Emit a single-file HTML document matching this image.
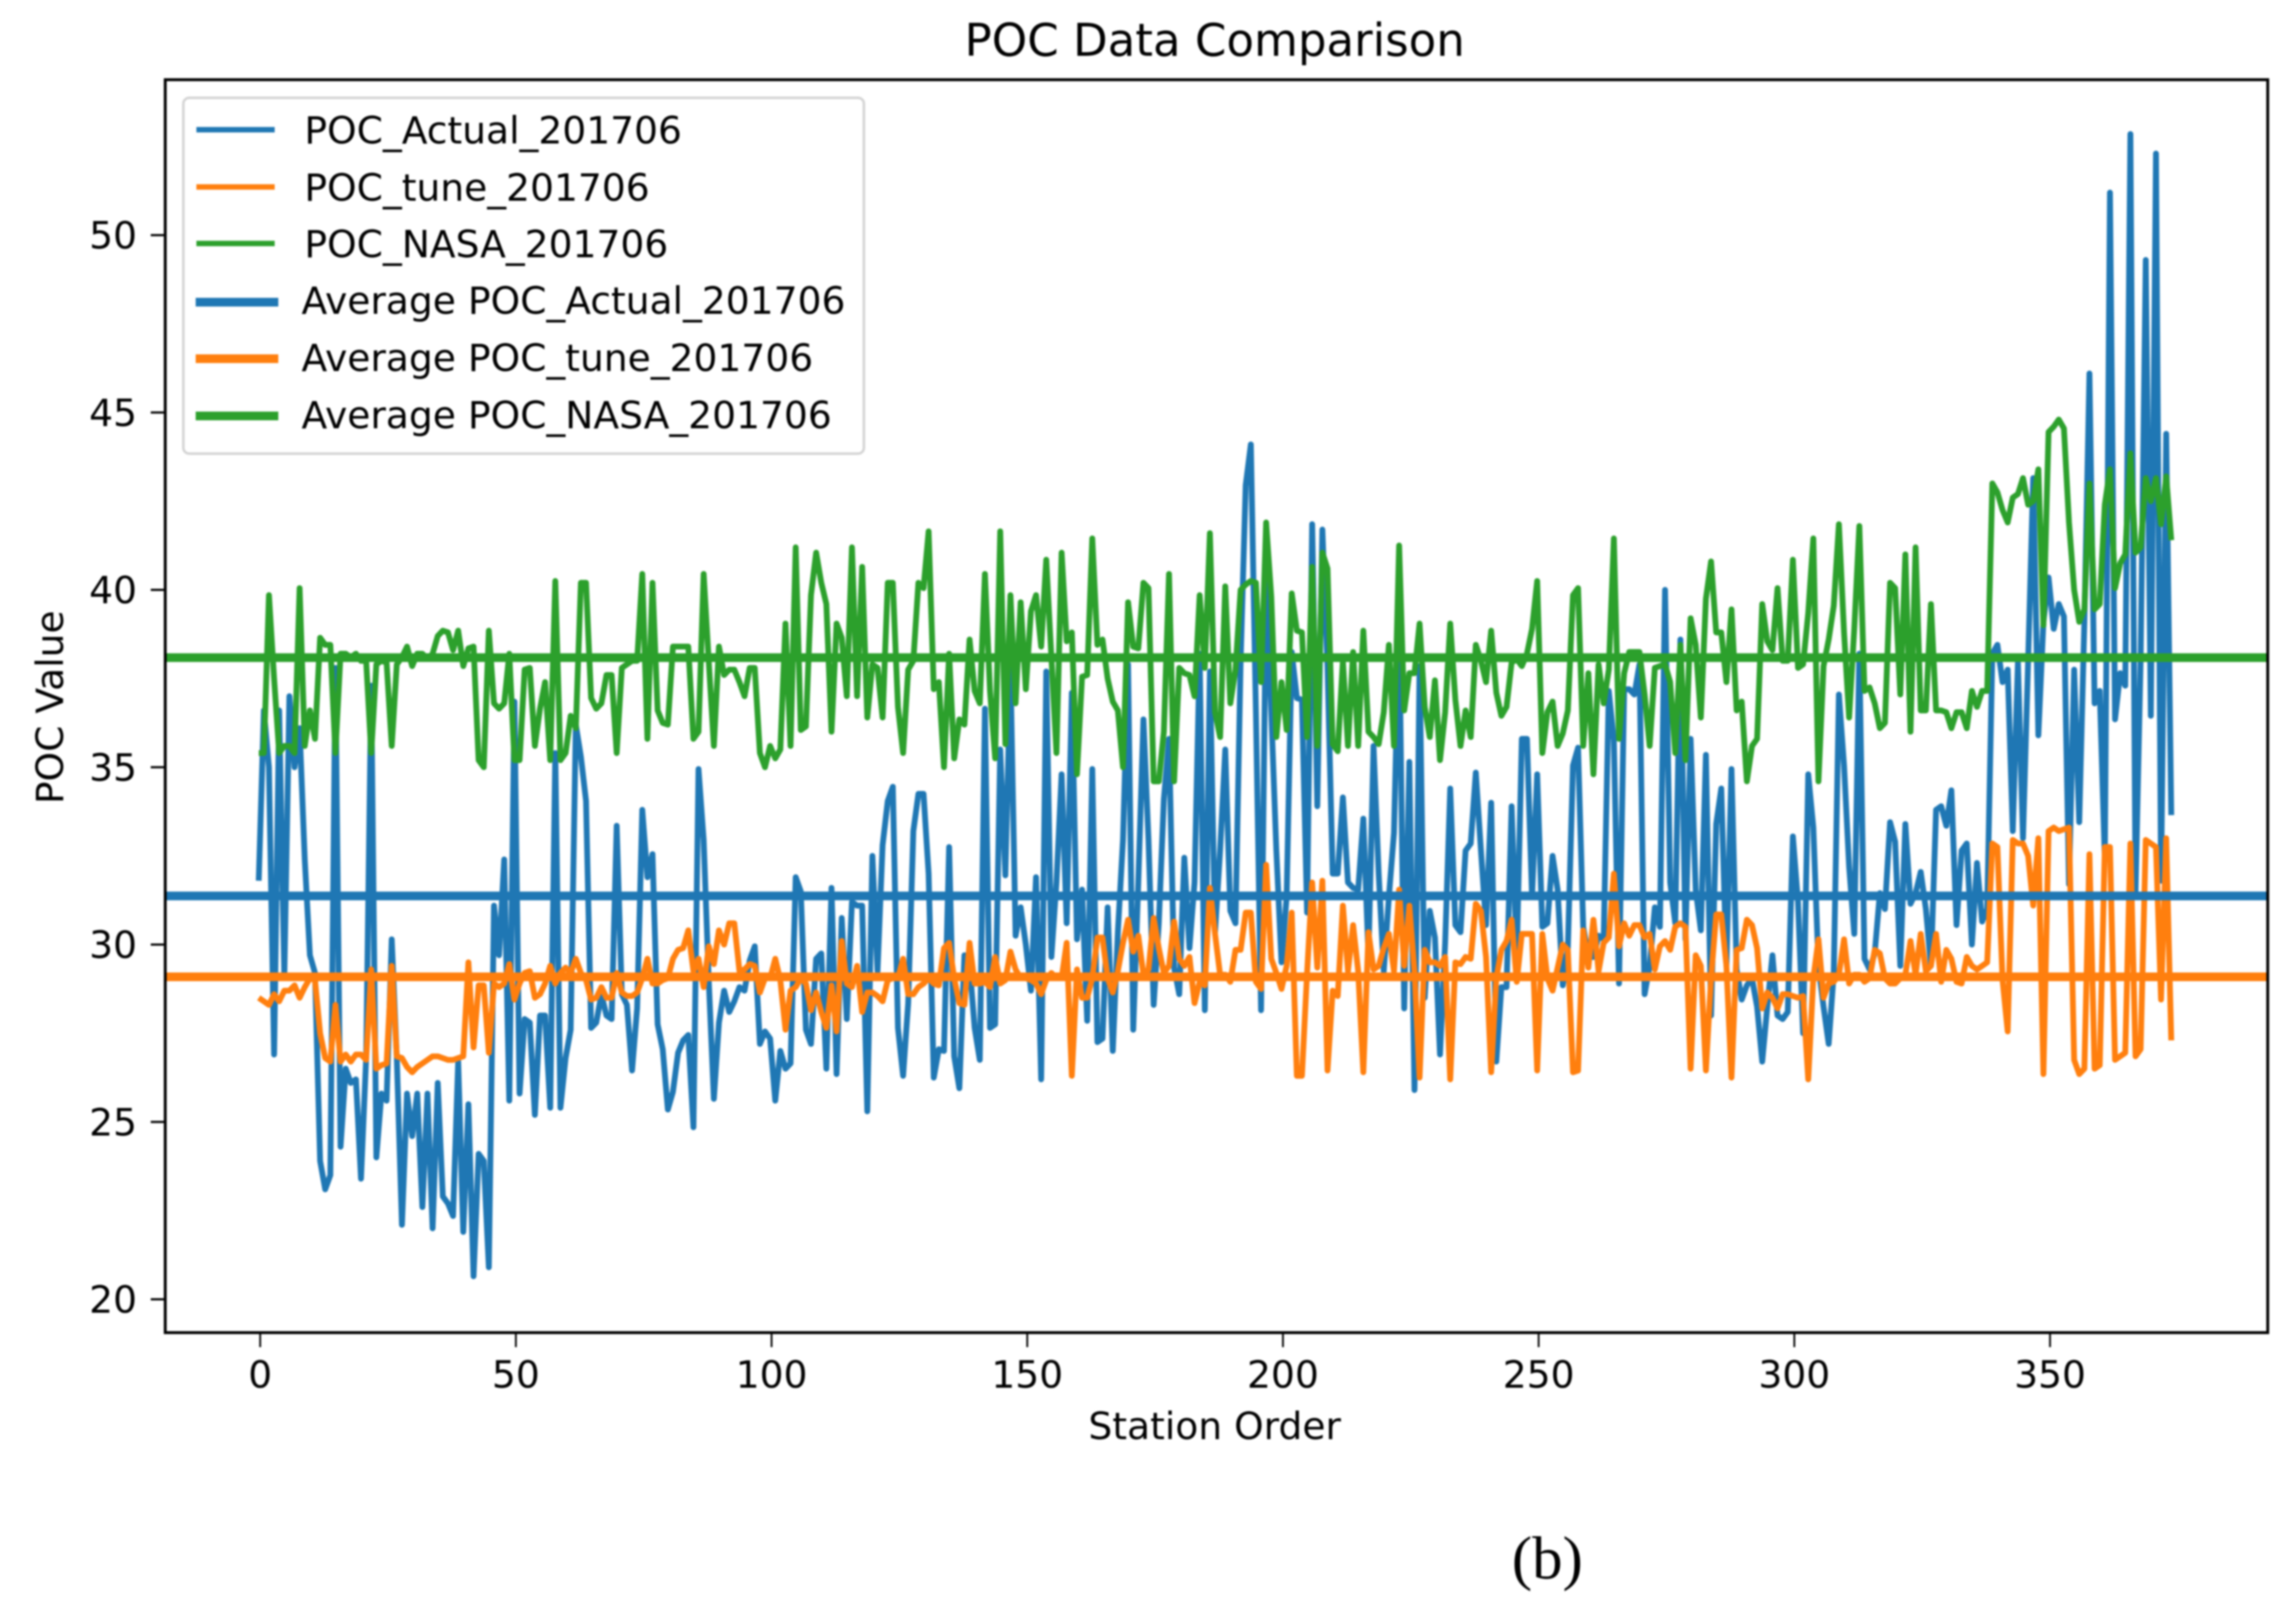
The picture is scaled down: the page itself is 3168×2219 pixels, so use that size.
<!DOCTYPE html>
<html lang="en">
<head>
<meta charset="utf-8">
<title>POC Data Comparison</title>
<style>
html,body{margin:0;padding:0;background:#fff;}
body{width:3168px;height:2219px;overflow:hidden;}
svg{display:block;filter:blur(1.2px);}
text{font-family:"DejaVu Sans","Liberation Sans",sans-serif;fill:#000;}
</style>
</head>
<body>
<svg id="chart" xmlns="http://www.w3.org/2000/svg" width="3168" height="2219" viewBox="0 0 3168 2219">
  <rect x="0" y="0" width="3168" height="2219" fill="#fff"/>
  <g id="series-layer"></g>
  <rect x="228" y="110" width="2901" height="1729" fill="none" stroke="#000" stroke-width="4"/>
  <g id="tick-layer"></g>
  <text x="1676" y="77" font-size="62.2" text-anchor="middle">POC Data Comparison</text>
  <text x="1676" y="1986" font-size="51.9" text-anchor="middle">Station Order</text>
  <text transform="translate(87,976) rotate(-90)" font-size="51.9" text-anchor="middle">POC Value</text>
  <g>
    <rect x="253" y="135" width="939" height="491" rx="8" ry="8" fill="#fff" fill-opacity="0.8" stroke="#d4d4d4" stroke-width="3.5"/>
    <line x1="271" x2="379" y1="179" y2="179" stroke="#1f77b4" stroke-width="7.5"/>
    <line x1="271" x2="379" y1="258" y2="258" stroke="#ff7f0e" stroke-width="7.5"/>
    <line x1="271" x2="379" y1="336" y2="336" stroke="#2ca02c" stroke-width="7.5"/>
    <line x1="270" x2="384" y1="417" y2="417" stroke="#1f77b4" stroke-width="12"/>
    <line x1="270" x2="384" y1="495" y2="495" stroke="#ff7f0e" stroke-width="12"/>
    <line x1="270" x2="384" y1="574" y2="574" stroke="#2ca02c" stroke-width="12"/>
    <text x="420" y="198" font-size="51.9">POC_Actual_201706</text>
    <text x="420" y="277" font-size="51.9">POC_tune_201706</text>
    <text x="420" y="355" font-size="51.9">POC_NASA_201706</text>
    <text x="416" y="433" font-size="51.9">Average POC_Actual_201706</text>
    <text x="416" y="512" font-size="51.9">Average POC_tune_201706</text>
    <text x="416" y="591" font-size="51.9">Average POC_NASA_201706</text>
  </g>
  <text x="2135" y="2178" font-size="84" text-anchor="middle" style="font-family:'Liberation Serif',serif">(b)</text>
</svg>
<script>
const pocActual = [
31.8,36.6,35.0,26.9,36.6,29.1,37.0,35.0,36.1,32.4,29.7,29.2,23.9,23.1,23.5,37.8,24.3,26.5,26.1,26.2,23.4,26.8,37.3,24.0,25.8,25.6,30.15,26.8,22.1,25.8,24.6,25.8,22.6,25.8,22.0,26.1,22.9,22.7,22.35,26.7,21.9,25.5,20.65,24.1,23.9,20.9,31.1,29.7,32.4,25.6,36.85,25.8,27.9,27.8,25.2,28.0,28.0,25.4,35.4,25.4,26.8,27.6,
36.2,35.3,34.05,27.65,27.8,28.6,28.0,27.9,33.35,28.6,28.3,26.45,28.2,33.8,31.9,32.55,27.75,27.05,25.35,25.85,26.95,27.3,27.45,24.85,34.95,32.95,29.0,25.65,27.8,28.7,28.1,28.4,28.8,28.7,29.55,29.95,27.2,27.55,27.35,25.6,27.0,26.5,26.65,31.9,31.5,27.6,27.2,29.6,29.75,26.5,31.6,26.35,30.75,27.9,31.2,31.1,31.1,25.3,32.5,29.25,32.8,34.05,34.45,
27.65,26.3,28.35,33.2,34.25,34.25,32.0,26.25,27.05,27.0,32.75,26.85,25.95,29.7,29.45,27.65,26.75,36.65,27.65,27.75,35.5,31.95,37.8,30.25,31.05,30.0,28.7,31.9,26.2,37.7,29.65,31.75,34.8,30.6,37.1,30.15,31.55,27.85,34.95,27.25,27.35,31.05,27.0,30.35,32.95,37.9,27.6,31.75,36.35,32.95,28.3,30.6,34.1,35.8,29.35,28.6,32.45,29.9,31.75,38.2,28.15,37.7,
30.35,32.65,35.5,30.95,30.6,38.0,42.95,44.1,36.55,28.15,40.2,36.55,32.65,29.5,31.35,38.25,36.95,36.9,30.9,41.85,33.9,41.7,37.85,32.0,32.0,34.15,31.75,31.6,31.55,33.55,29.65,35.6,32.0,29.25,31.35,33.15,39.15,28.2,35.15,25.9,37.85,28.5,30.95,30.2,26.9,30.05,34.4,30.55,30.35,32.65,32.85,34.85,32.65,30.55,34.0,26.7,28.8,28.8,33.9,29.65,35.8,35.8,31.35,
34.8,30.5,30.6,32.5,31.55,28.85,29.9,35.05,35.55,30.5,29.65,29.65,30.25,30.15,37.15,35.75,28.9,37.2,37.2,37.05,37.9,28.6,29.4,31.05,30.5,40.0,31.75,30.6,38.6,30.15,35.8,31.55,30.4,35.35,28.0,33.4,34.4,29.4,34.95,29.3,28.45,28.85,29.05,28.25,26.7,28.25,29.7,28.0,27.9,28.1,33.05,31.2,27.5,34.8,33.3,29.4,28.25,27.2,29.2,37.05,35.05,32.2,
30.3,38.2,29.6,29.3,29.75,31.45,31.0,33.45,32.9,29.4,33.4,31.15,31.45,32.05,31.0,29.4,33.8,33.9,33.35,34.35,30.55,32.65,32.85,30.0,32.3,30.65,31.0,38.2,38.45,37.4,37.75,33.2,37.95,33.0,38.0,43.15,35.9,39.1,40.35,38.9,39.6,39.25,31.7,37.75,33.45,39.1,46.1,36.8,37.15,32.4,51.2,36.35,37.65,37.3,52.85,31.5,38.0,49.3,36.45,52.3,31.8,44.4,33.65
];
const pocTune = [
28.5,28.4,28.3,28.6,28.4,28.7,28.7,28.85,28.5,28.8,29.05,29.0,27.5,26.8,26.7,28.3,26.7,26.9,26.7,26.9,26.9,26.75,29.3,26.5,26.6,26.65,29.4,26.85,26.8,26.55,26.4,26.55,26.65,26.75,26.85,26.85,26.8,26.75,26.75,26.8,26.85,29.5,27.1,28.85,28.85,26.95,28.9,28.8,28.9,29.45,28.45,28.9,29.2,29.25,28.5,28.6,28.9,29.4,28.9,29.2,29.35,29.2,
29.6,29.2,29.0,28.45,28.5,28.8,28.5,28.5,29.2,28.65,28.55,28.55,28.65,29.05,29.6,28.9,28.9,29.0,29.05,29.6,29.85,29.9,30.4,29.25,29.6,28.8,29.95,29.45,30.4,30.0,30.6,30.6,29.25,29.3,29.45,29.4,28.65,29.05,29.05,29.6,29.0,27.6,28.7,28.8,29.05,28.9,28.15,28.65,28.1,27.65,28.85,27.55,30.1,28.9,28.8,29.4,28.1,28.65,28.65,28.55,28.4,29.0,29.05,
29.05,29.6,28.6,28.6,28.8,28.9,29.05,28.9,28.85,29.9,30.05,29.05,28.35,28.3,30.05,28.9,28.9,28.95,28.8,29.65,28.9,29.0,29.8,29.3,29.05,29.05,29.0,28.9,28.6,29.0,29.2,29.05,29.05,30.05,26.3,29.3,28.5,28.5,29.05,30.2,30.2,29.05,28.65,29.25,30.05,30.7,29.8,30.25,29.15,29.3,30.75,29.9,29.2,29.4,30.65,29.6,29.4,29.65,28.35,28.95,28.85,31.6,
30.3,29.15,29.15,28.95,29.85,29.85,30.9,30.9,28.95,28.75,32.25,29.6,29.2,28.75,29.4,30.9,26.3,26.3,29.2,31.75,29.35,31.8,26.45,28.7,28.55,31.1,29.25,30.55,29.25,26.4,30.35,29.3,29.4,29.9,30.3,29.25,31.55,29.4,31.1,29.25,26.25,29.85,29.5,29.5,29.4,29.65,26.2,29.5,29.45,29.65,29.6,31.15,30.95,29.65,26.4,29.05,29.85,30.1,30.7,28.95,30.3,30.3,30.3,
26.45,30.3,29.05,28.7,29.35,30.0,29.85,26.4,26.45,30.4,29.35,30.7,29.25,30.05,30.2,32.0,29.95,30.6,30.25,30.55,30.55,30.2,30.3,29.3,29.95,30.1,29.85,30.5,30.6,30.5,26.5,29.7,29.4,26.45,29.05,30.85,30.85,29.4,26.25,29.85,29.9,30.7,30.55,29.9,28.2,28.65,28.5,28.2,28.6,28.6,28.55,28.5,28.55,26.2,29.05,30.15,28.5,28.9,28.95,29.15,30.15,28.9,
29.15,29.15,28.95,29.05,29.85,29.75,29.05,28.9,28.9,29.05,29.15,30.1,29.15,30.3,29.25,29.4,30.3,28.95,29.85,29.6,28.95,28.9,29.65,29.4,29.3,29.4,29.5,32.85,32.75,29.0,27.55,32.95,32.85,32.85,32.5,31.1,33.0,26.35,33.2,33.3,33.2,33.25,33.3,26.75,26.35,26.5,32.55,26.5,26.6,32.75,32.75,26.75,26.85,26.95,32.85,26.85,27.05,32.95,32.85,32.75,28.45,33.0,27.3
];
const pocNasa = [
35.4,35.4,39.85,37.5,35.4,35.6,35.6,35.4,40.05,35.6,36.6,35.8,38.65,38.45,38.45,35.4,38.2,38.2,38.1,38.2,38.0,38.0,35.4,37.9,38.0,37.95,35.6,37.9,38.1,38.4,37.85,38.2,38.2,38.05,38.2,38.7,38.85,38.8,38.3,38.85,37.85,38.35,38.4,35.2,35.0,38.85,36.8,36.65,36.8,38.2,35.2,35.2,37.75,37.8,35.6,36.65,37.4,35.2,40.25,35.2,35.4,36.45,
36.1,40.2,40.2,36.95,36.65,36.8,37.6,37.6,35.4,37.8,37.9,38.0,38.0,40.45,35.8,40.2,36.6,36.25,36.2,38.4,38.4,38.4,38.4,35.8,36.0,40.45,38.0,35.6,38.4,37.6,37.75,37.75,37.4,37.0,37.8,37.8,35.4,35.0,35.6,35.25,35.5,39.05,35.6,41.2,36.05,36.15,39.85,41.05,40.2,39.6,36.0,39.05,38.65,37.0,41.2,37.0,40.65,36.4,37.9,37.8,36.4,40.2,40.2,
36.7,35.4,37.75,38.0,40.2,40.05,41.65,37.2,37.4,35.0,38.2,35.25,36.35,36.2,38.6,37.15,36.8,40.45,37.15,35.25,41.65,35.65,39.85,36.8,39.65,37.2,39.4,39.85,38.4,40.85,38.1,35.4,41.05,38.55,38.8,34.8,37.55,37.6,41.45,38.45,38.6,37.5,36.85,36.6,35.0,39.65,38.4,38.35,40.2,40.05,34.6,34.6,36.0,40.45,34.6,37.8,37.65,37.6,37.0,39.85,37.8,41.6,
36.55,35.85,40.1,36.8,37.75,40.0,40.15,40.25,40.2,37.4,41.9,39.8,35.85,37.4,36.05,39.9,38.85,38.8,35.85,40.65,35.6,41.05,40.6,35.65,35.45,38.0,35.6,38.25,35.6,38.85,36.0,35.85,35.65,36.55,38.45,35.6,41.25,36.6,37.65,37.65,39.05,36.7,35.85,37.45,35.2,36.55,39.05,36.9,35.6,36.6,35.85,38.45,38.0,37.4,38.85,37.1,36.45,36.7,37.95,38.05,37.85,38.2,38.9,
40.25,35.4,36.55,36.85,35.6,35.95,36.6,39.85,40.05,35.6,37.65,34.8,37.9,36.8,37.75,41.45,35.8,37.65,38.25,38.25,38.25,37.05,35.6,37.8,37.85,37.9,37.4,35.4,38.45,35.2,39.2,38.45,36.4,39.75,40.8,38.8,38.8,37.4,39.45,36.6,36.85,34.6,35.6,35.8,39.6,38.55,38.3,40.05,38.0,38.0,40.85,37.8,37.9,39.35,41.45,34.6,37.85,38.6,39.55,41.85,38.8,36.4,
38.9,41.8,37.15,37.25,36.8,36.1,36.25,40.2,40.05,37.05,41.0,36.0,41.2,36.6,36.6,39.6,36.6,36.6,36.55,36.1,36.55,36.55,36.1,37.15,36.7,37.15,37.15,43.0,42.75,42.25,41.9,42.6,42.7,43.15,42.4,42.5,43.4,39.0,44.45,44.6,44.8,44.55,41.9,40.0,39.1,39.45,43.0,39.45,39.6,42.4,43.4,40.05,40.75,41.0,43.85,41.05,41.2,43.15,42.5,43.15,41.85,43.2,41.4
];
const averageActual = 31.37;
const averageTune = 29.09;
const averageNasa = 38.09;
const xTickValues = [0, 50, 100, 150, 200, 250, 300, 350];
const yTickValues = [20, 25, 30, 35, 40, 45, 50];

const SVG_NS = 'http://www.w3.org/2000/svg';
function xScale(v) { return 357 + 7.056 * v; }
function xTickScale(v) { return xScale(v) + 2; }
function yScale(v) { return 1793 - (v - 20) * 48.95; }

const seriesLayer = document.getElementById('series-layer');
const tickLayer = document.getElementById('tick-layer');

function linePath(values) {
  return values.map(function (v, i) {
    return (i ? 'L' : 'M') + xScale(i).toFixed(1) + ' ' + yScale(v).toFixed(1);
  }).join('');
}

function makeSeriesPath(values, colour) {
  const p = document.createElementNS(SVG_NS, 'path');
  p.setAttribute('d', linePath(values));
  p.setAttribute('fill', 'none');
  p.setAttribute('stroke', colour);
  p.setAttribute('stroke-width', '8');
  p.setAttribute('stroke-linejoin', 'round');
  seriesLayer.appendChild(p);
  return p;
}

function makeAverageLine(value, colour) {
  const l = document.createElementNS(SVG_NS, 'line');
  l.setAttribute('x1', '228');
  l.setAttribute('x2', '3129');
  l.setAttribute('y1', yScale(value).toFixed(1));
  l.setAttribute('y2', yScale(value).toFixed(1));
  l.setAttribute('stroke', colour);
  l.setAttribute('stroke-width', '12');
  seriesLayer.appendChild(l);
  return l;
}

const actualLine = makeSeriesPath(pocActual, '#1f77b4');


const tuneLine = makeSeriesPath(pocTune, '#ff7f0e');


const nasaLine = makeSeriesPath(pocNasa, '#2ca02c');


const avgActualLine = makeAverageLine(averageActual, '#1f77b4');


const avgTuneLine = makeAverageLine(averageTune, '#ff7f0e');


const avgNasaLine = makeAverageLine(averageNasa, '#2ca02c');



xTickValues.forEach(function (v) {
  const mark = document.createElementNS(SVG_NS, 'line');
  mark.setAttribute('x1', xTickScale(v).toFixed(1));
  mark.setAttribute('x2', xTickScale(v).toFixed(1));
  mark.setAttribute('y1', '1839');
  mark.setAttribute('y2', '1859');
  mark.setAttribute('stroke', '#000');
  mark.setAttribute('stroke-width', '2.5');
  
  
  tickLayer.appendChild(mark);
  const label = document.createElementNS(SVG_NS, 'text');
  label.setAttribute('x', xTickScale(v).toFixed(1));
  label.setAttribute('y', '1915');
  label.setAttribute('font-size', '51.9');
  label.setAttribute('text-anchor', 'middle');
  
  
  label.textContent = String(v);
  tickLayer.appendChild(label);
});

yTickValues.forEach(function (v) {
  const mark = document.createElementNS(SVG_NS, 'line');
  mark.setAttribute('x1', '208');
  mark.setAttribute('x2', '228');
  mark.setAttribute('y1', yScale(v).toFixed(1));
  mark.setAttribute('y2', yScale(v).toFixed(1));
  mark.setAttribute('stroke', '#000');
  mark.setAttribute('stroke-width', '3');
  
  
  tickLayer.appendChild(mark);
  const label = document.createElementNS(SVG_NS, 'text');
  label.setAttribute('x', '189');
  label.setAttribute('y', (yScale(v) + 18.5).toFixed(1));
  label.setAttribute('font-size', '51.9');
  label.setAttribute('text-anchor', 'end');
  
  
  label.textContent = String(v);
  tickLayer.appendChild(label);
});
</script>
</body>
</html>
